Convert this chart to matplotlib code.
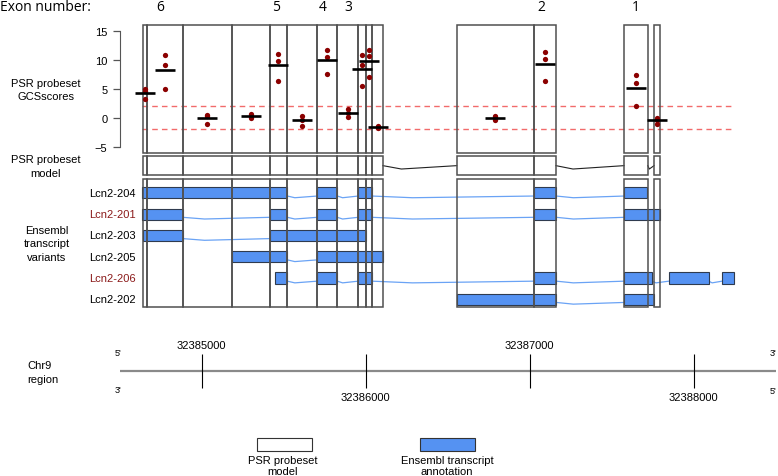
import numpy as np
import matplotlib
matplotlib.use("Agg")
import matplotlib.pyplot as plt
from matplotlib.patches import Rectangle

plt.rcParams['font.family'] = ['Liberation Sans', 'DejaVu Sans']

# ---- data (genomic coordinates, bp) ----
psr_start = [32384640, 32384665, 32384885, 32385185, 32385415, 32385520, 32385705,
             32385825, 32385955, 32386000, 32386040, 32386555, 32387025, 32387575, 32387758]
psr_end = [32384665, 32384885, 32385185, 32385415, 32385520, 32385705, 32385825,
           32385955, 32386000, 32386040, 32386105, 32387025, 32387160, 32387720, 32387796]

# GCS scores per probeset
psr_scores = [
    [5.0, 4.6, 3.2],
    [10.9, 9.2, 5.0],
    [0.45, 0.35, -1.1],
    [0.6, 0.3, 0.0],
    [11.1, 9.9, 6.4],
    [0.35, -0.3, -1.35],
    [11.7, 10.6, 7.6],
    [1.5, 0.9, 0.2],
    [10.9, 9.1, 5.5],
    [11.8, 10.7, 7.0],
    [-1.4, -1.5, -1.8],
    [0.3, 0.1, -0.4],
    [11.4, 10.2, 6.3],
    [7.5, 6.1, 2.05],
    [0.05, -0.35, -1.0],
]

exon_numbers = ['6', '5', '4', '3', '2', '1']
exon_label_pos = [32384746, 32385453, 32385740, 32385892, 32387073, 32387646]

transcripts = ['Lcn2-204', 'Lcn2-201', 'Lcn2-203', 'Lcn2-205', 'Lcn2-206', 'Lcn2-202']
highlighted = ['Lcn2-201', 'Lcn2-206']
tx_exons = {
    'Lcn2-204': [(32384634, 32385522), (32385705, 32385827), (32385955, 32386038),
                 (32387026, 32387162), (32387577, 32387718)],
    'Lcn2-201': [(32384636, 32384884), (32385416, 32385522), (32385705, 32385827),
                 (32385955, 32386038), (32387026, 32387162), (32387577, 32387796)],
    'Lcn2-203': [(32384640, 32384884), (32385416, 32386000)],
    'Lcn2-205': [(32385183, 32385522), (32385705, 32386107)],
    'Lcn2-206': [(32385445, 32385522), (32385705, 32385827), (32385955, 32386038),
                 (32387026, 32387162), (32387577, 32387744), (32387849, 32388092),
                 (32388173, 32388248)],
    'Lcn2-202': [(32386557, 32387162), (32387577, 32387758)],
}

chr_name = 'Chr9'
chr_start, chr_end = 32384500, 32388500
chr_ticks = [32385000, 32386000, 32387000, 32388000]
cutoff = 2

# ---- layout ----
W, H = 778, 477
X0, X1 = 32383770, 32388514
box_ec = '#505050'
blue = '#5592f2'
intron_c = '#6aa3f5'

fig = plt.figure(figsize=(W / 100, H / 100), dpi=100)


def band_axes(top, bottom):
    ax = fig.add_axes([0, 1 - bottom / H, 1, (bottom - top) / H])
    ax.set_xlim(X0, X1)
    for s in ax.spines.values():
        s.set_visible(False)
    ax.set_xticks([])
    ax.set_yticks([])
    return ax


def psr_boxes(ax, ylo, yhi):
    for s, e in zip(psr_start, psr_end):
        ax.add_patch(Rectangle((s, ylo), e - s, yhi - ylo, fill=False, ec=box_ec,
                               lw=1.1, zorder=3, clip_on=False))


def connector(ax, x1, x2, y, dip, **kw):
    xm = x1 + 0.25 * (x2 - x1)
    ax.plot([x1, xm, x2], [y, y + dip, y], **kw)


# score panel
ax_s = band_axes(25.7, 154.3)
ylo, yhi = -6.14, 16.14
ax_s.set_ylim(ylo, yhi)
psr_boxes(ax_s, ylo, yhi)
ax_s.spines['left'].set_visible(True)
ax_s.spines['left'].set_position(('axes', 120 / W))
ax_s.spines['left'].set_bounds(-5, 15)
ax_s.spines['left'].set_color('#555555')
ax_s.set_yticks([-5, 0, 5, 10, 15])
ax_s.tick_params(axis='y', length=5, width=0.9, color='#555555', labelsize=8, pad=4)

gene_lo = min(e[0] for ex in tx_exons.values() for e in ex)
gene_hi = max(e[1] for ex in tx_exons.values() for e in ex)
ax_s.hlines([cutoff, -cutoff], gene_lo, gene_hi, colors='#f26b6b',
            linestyles=(0, (4, 3)), lw=1.0, zorder=2)

for s, e, vals in zip(psr_start, psr_end, psr_scores):
    c = (s + e) / 2
    ax_s.plot([c] * len(vals), vals, 'o', color='#8b0000', ms=3.8, mec='none', zorder=4)
    ax_s.hlines(np.mean(vals), c - 61, c + 61, color='black', lw=1.9, zorder=5)

# probeset model panel
ax_m = band_axes(157.3, 176)
ax_m.set_ylim(0, 1)
psr_boxes(ax_m, 0, 1)
for e, s in zip(psr_end[:-1], psr_start[1:]):
    if s > e:
        connector(ax_m, e, s, 0.5, -0.18, color='#222222', lw=0.8)

# transcript panel
ax_t = band_axes(180, 307.7)
ax_t.set_ylim(5.35, -0.65)
psr_boxes(ax_t, -0.65, 5.35)
for i, name in enumerate(transcripts):
    ex = tx_exons[name]
    for s, e in ex:
        ax_t.add_patch(Rectangle((s, i - 0.26), e - s, 0.52, fc=blue, ec='#2f3b4f',
                                 lw=0.8, zorder=2))
    for (s1, e1), (s2, e2) in zip(ex[:-1], ex[1:]):
        connector(ax_t, e1, s2, i + 0.15, 0.08, color=intron_c, lw=0.9, zorder=1)
    ax_t.text(136 / W, i, name, transform=ax_t.get_yaxis_transform(), ha='right',
              va='center', fontsize=8,
              color='#8b1a1a' if name in highlighted else 'black')

# chromosome track
ax_c = band_axes(340, 404)
ax_c.set_ylim(-1, 1)
ax_c.hlines(0, chr_start, chr_end, color='#8a8a8a', lw=1.6)
ax_c.vlines(chr_ticks, -0.52, 0.53, color='black', lw=0.8)
for k, t in enumerate(chr_ticks):
    ax_c.text(t, 0.8 if k % 2 == 0 else -0.8, str(t), ha='center', va='center', fontsize=8)
ax_c.text(chr_start - 10, 0.58, "5'", ha='center', va='center', fontsize=6.5)
ax_c.text(chr_start - 10, -0.59, "3'", ha='center', va='center', fontsize=6.5)
ax_c.text(chr_end - 15, 0.58, "3'", ha='center', va='center', fontsize=6.5)
ax_c.text(chr_end - 15, -0.62, "5'", ha='center', va='center', fontsize=6.5)

# exon numbers
fig.text(0, 1 - 7.5 / H, 'Exon number:', ha='left', va='center', fontsize=10,
         family='Open Sans')
for lab, pos in zip(exon_numbers, exon_label_pos):
    ax_s.text(pos, 1 + 18 / (154.3 - 25.7), lab, transform=ax_s.get_xaxis_transform(),
              ha='center', va='center', fontsize=10, family='Open Sans')

# left track labels
fig.text(46 / W, 1 - 90.7 / H, 'PSR probeset\nGCSscores', ha='center', va='center',
         fontsize=8, linespacing=1.45)
fig.text(46 / W, 1 - 167.3 / H, 'PSR probeset\nmodel', ha='center', va='center',
         fontsize=8, linespacing=1.45)
fig.text(47 / W, 1 - 244.5 / H, 'Ensembl\ntranscript\nvariants', ha='center',
         va='center', fontsize=8, linespacing=1.4)
fig.text(27 / W, 1 - 372.8 / H, chr_name + '\nregion', ha='left', va='center',
         fontsize=8, linespacing=1.45)

# legend
fig.add_artist(Rectangle((256.7 / W, 1 - 451.7 / H), 55 / W, 12.4 / H,
                         transform=fig.transFigure, fc='white', ec='#333333', lw=0.8))
fig.add_artist(Rectangle((420 / W, 1 - 451.7 / H), 55 / W, 12.4 / H,
                         transform=fig.transFigure, fc=blue, ec='#333333', lw=0.8))
fig.text(282.7 / W, 1 - 466.3 / H, 'PSR probeset\nmodel', ha='center', va='center',
         fontsize=8, linespacing=1.15)
fig.text(447 / W, 1 - 466.3 / H, 'Ensembl transcript\nannotation', ha='center',
         va='center', fontsize=8, linespacing=1.15)

fig.savefig('out.png', dpi=100)
